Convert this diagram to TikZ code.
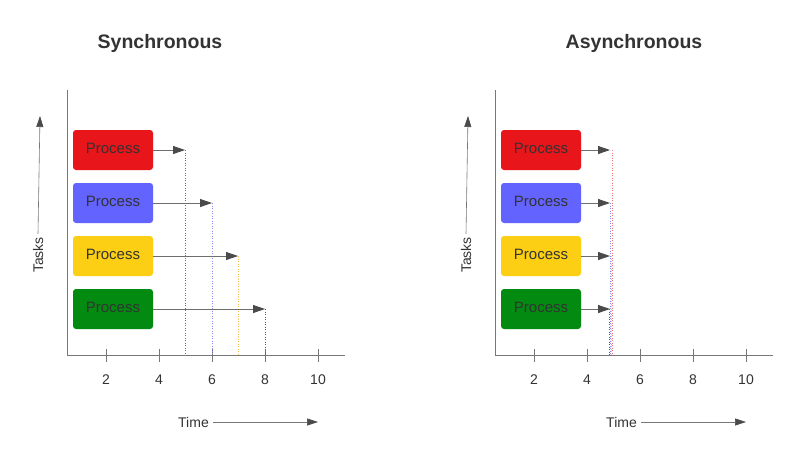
\documentclass[tikz,border=0pt]{standalone}
\usepackage{fontspec}
\setmainfont{Liberation Sans}
\usetikzlibrary{arrows.meta}
\definecolor{txt}{HTML}{333333}
\definecolor{axisc}{HTML}{777777}
\definecolor{arrc}{HTML}{4A4A4A}
\definecolor{pred}{HTML}{E8151B}
\definecolor{pblue}{HTML}{6363FF}
\definecolor{pyel}{HTML}{FCCF14}
\definecolor{pgreen}{HTML}{038A10}
\definecolor{dred}{HTML}{B0506A}
\definecolor{dblue}{HTML}{8A8AF0}
\definecolor{dyel}{HTML}{F2C24A}
\definecolor{dgreen}{HTML}{2E7A3A}
\tikzset{
  proc/.style={draw=none, rounded corners=3pt, minimum width=80pt, minimum height=40pt, inner sep=0pt, text=txt, font=\fontsize{15}{17}\selectfont},
  axisline/.style={draw=axisc, line width=1pt},
  flow/.style={draw=arrc!80, line width=0.8pt, -{Triangle[length=12pt,width=8pt,color=arrc]}},
  guide/.style={draw=axisc, line width=0.6pt, -{Triangle[length=11pt,width=7pt,color=arrc]}},
  drop/.style={line width=0.5pt, dash pattern=on 1pt off 1.5pt},
  ttl/.style={font=\bfseries\fontsize{19.5}{22}\selectfont, text=txt},
  lbl/.style={font=\fontsize{14}{16}\selectfont, text=txt, inner sep=0pt},
  num/.style={font=\fontsize{14}{16}\selectfont, text=txt, inner sep=0pt}
}
\begin{document}
\begin{tikzpicture}[x=1pt,y=-1pt]
\useasboundingbox[fill=white] (0,0) rectangle (800,459);
\foreach \dx/\pre in {0/L,428/R}{
  \begin{scope}[xshift=\dx pt]
    \coordinate (\pre yt) at (67,90);
    \coordinate (\pre o) at (67,355);
    \coordinate (\pre xe) at (345,355);
    \draw[axisline] (\pre yt) -- (\pre o) -- (\pre xe);
    \foreach \t/\xx in {2/106,4/159,6/212,8/265,10/318}{
      \coordinate (\pre tk\t a) at (\xx,349);
      \coordinate (\pre tk\t b) at (\xx,362);
      \draw[axisline] (\pre tk\t a) -- (\pre tk\t b);
      \node[num] (\pre n\t) at (\xx,380) {\t};
    }
    \node[proc, fill=pred] (\pre r) at (113,150) {\raisebox{2.5pt}{Process}};
    \node[proc, fill=pblue] (\pre b) at (113,203) {\raisebox{2.5pt}{Process}};
    \node[proc, fill=pyel] (\pre y) at (113,256) {\raisebox{2.5pt}{Process}};
    \node[proc, fill=pgreen] (\pre g) at (113,309) {\raisebox{2.5pt}{Process}};
    \node[lbl, rotate=90] (\pre tasks) at (38,255) {Tasks};
    \coordinate (\pre taskstop) at (40,116);
    \draw[guide] (\pre tasks.east) ++(0,-3) -- (\pre taskstop);
    \node[lbl, anchor=east] (\pre time) at (209,422) {Time};
    \coordinate (\pre timeend) at (318,422);
    \draw[guide] ([xshift=4pt]\pre time.east) -- (\pre timeend);
  \end{scope}
}
\node[ttl] (t1) at (160,43) {Synchronous};
\node[ttl] (t2) at (634,43) {Asynchronous};
\coordinate (Lre) at (185,150); \coordinate (Lrb) at (185,355);
\coordinate (Lbe) at (212,203); \coordinate (Lbb) at (212,355);
\coordinate (Lye) at (238,256); \coordinate (Lyb) at (238,355);
\coordinate (Lge) at (265,309); \coordinate (Lgb) at (265,355);
\draw[drop, dred] (Lre) -- (Lrb);
\draw[drop, dblue] (Lbe) -- (Lbb);
\draw[drop, dyel] (Lye) -- (Lyb);
\draw[drop, dgreen] (Lge) -- (Lgb);
\draw[flow] (Lr.east) -- (Lre);
\draw[flow] (Lb.east) -- (Lbe);
\draw[flow] (Ly.east) -- (Lye);
\draw[flow] (Lg.east) -- (Lge);
\coordinate (Rre) at (612,150); \coordinate (Rrb) at (612,355);
\coordinate (Rbe) at (610,203); \coordinate (Rbb) at (610,355);
\coordinate (Rye) at (611,256); \coordinate (Ryb) at (611,355);
\coordinate (Rge) at (609,309); \coordinate (Rgb) at (609,355);
\draw[drop, pred!60] (Rre) -- (Rrb);
\draw[drop, dblue] (Rbe) -- (Rbb);
\draw[drop, dyel] (Rye) -- (Ryb);
\draw[drop, dgreen] (Rge) -- (Rgb);
\coordinate (Rra) at (610,150);
\coordinate (Rya) at (610,256);
\coordinate (Rga) at (610,309);
\draw[flow] (Rr.east) -- (Rra);
\draw[flow] (Rb.east) -- (Rbe);
\draw[flow] (Ry.east) -- (Rya);
\draw[flow] (Rg.east) -- (Rga);
\end{tikzpicture}
\end{document}
